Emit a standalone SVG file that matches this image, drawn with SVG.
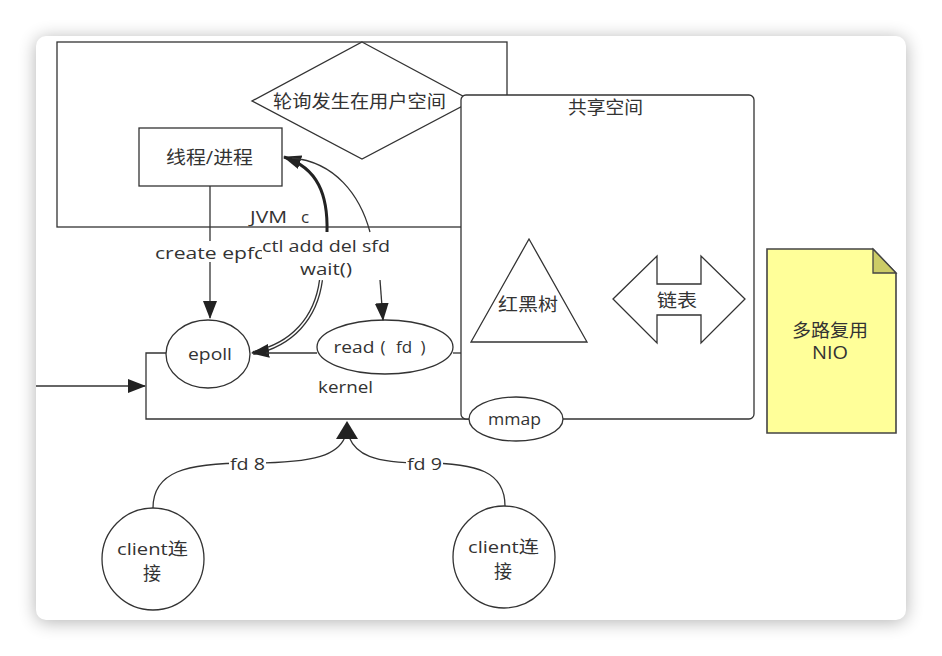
<svg xmlns="http://www.w3.org/2000/svg" width="942" height="656" viewBox="0 0 942 656">
<defs>
<filter id="sh" x="-10%" y="-10%" width="120%" height="120%">
<feGaussianBlur stdDeviation="9"/>
</filter>
<marker id="ah" markerUnits="userSpaceOnUse" markerWidth="18" markerHeight="14" refX="17" refY="7" orient="auto">
<path d="M0,0 L18,7 L0,14 z" fill="#222"/>
</marker>
<style>
.s{fill:none;stroke:#333;stroke-width:1.3}
.w{fill:#fff;stroke:#333;stroke-width:1.3}
.t{font-family:"Open Sans","Noto Sans CJK SC",sans-serif;font-size:17px;fill:#333;text-anchor:middle;dominant-baseline:central}
.c{font-size:18px}
.bg{fill:#fff}
</style>
</defs>
<rect width="942" height="656" fill="#fff"/>
<rect x="36" y="38" width="870" height="584" rx="10" fill="#000" opacity="0.3" filter="url(#sh)"/>
<rect x="36" y="36" width="870" height="584" rx="10" fill="#fff"/>

<g id="jvm">
<rect class="s" x="57" y="42" width="450" height="185"/>
<text class="t" x="268.5" y="216" textLength="37" lengthAdjust="spacingAndGlyphs">JVM</text>
<text class="t" x="305" y="216">c</text>
</g>
<g id="polling">
<path class="w" d="M362 42 L472 101 L362 159 L252 101 Z"/>
<text class="t c" x="359.5" y="101" textLength="173" lengthAdjust="spacingAndGlyphs">轮询发生在用户空间</text>
</g>
<g id="thread">
<rect class="w" x="139" y="128" width="143" height="58"/>
<text class="t c" x="209.5" y="157" textLength="87" lengthAdjust="spacingAndGlyphs">线程/进程</text>
</g>
<g id="kernel">
<path class="s" d="M166 353 H146 V419 H470"/>
<path class="s" d="M453 353 H462"/>
<text class="t" x="345.5" y="386" textLength="55" lengthAdjust="spacingAndGlyphs">kernel</text>
</g>
<g id="shared">
<rect class="w" x="461" y="95" width="293" height="324" rx="5"/>
<text class="t c" x="605.5" y="107" textLength="75" lengthAdjust="spacingAndGlyphs">共享空间</text>
</g>
<g id="rbtree">
<path class="w" d="M529 239 L587 342 L471 342 Z"/>
<text class="t c" x="528" y="304" textLength="60" lengthAdjust="spacingAndGlyphs">红黑树</text>
</g>
<g id="list">
<path class="w" d="M613 299 L657 256 V284 H701 V256 L745 299 L701 343 V315 H657 V343 Z"/>
<text class="t c" x="677" y="300" textLength="40" lengthAdjust="spacingAndGlyphs">链表</text>
</g>
<g id="mmap">
<ellipse class="w" cx="516" cy="419" rx="47" ry="22"/>
<text class="t" x="514.5" y="418" textLength="53" lengthAdjust="spacingAndGlyphs">mmap</text>
</g>
<g id="epoll">
<ellipse class="w" cx="208" cy="354" rx="42" ry="34"/>
<text class="t" x="210" y="353" textLength="44" lengthAdjust="spacingAndGlyphs">epoll</text>
</g>
<g id="read">
<ellipse class="w" cx="385" cy="347" rx="68" ry="27"/>
<text class="t" y="346"><tspan x="354" textLength="41" lengthAdjust="spacingAndGlyphs">read</tspan><tspan x="383">(</tspan><tspan x="404">fd</tspan><tspan x="423">)</tspan></text>
</g>
<g id="note">
<path d="M767 249 H873 L896 273 V433 H767 Z" fill="#ffff99" stroke="#444" stroke-width="1.6"/>
<path d="M873 249 V273 H896 Z" fill="#cccc66" stroke="#444" stroke-width="1.3"/>
<text class="t c" x="830" y="330" textLength="76" lengthAdjust="spacingAndGlyphs">多路复用</text>
<text class="t c" x="830" y="352" textLength="36" lengthAdjust="spacingAndGlyphs">NIO</text>
</g>
<g id="client1">
<circle class="w" cx="153" cy="559" r="51"/>
<text class="t" x="152.5" y="548" textLength="71" lengthAdjust="spacingAndGlyphs">client连</text>
<text class="t c" x="152" y="573">接</text>
</g>
<g id="client2">
<circle class="w" cx="504" cy="557" r="51"/>
<text class="t" x="503.5" y="546" textLength="71" lengthAdjust="spacingAndGlyphs">client连</text>
<text class="t c" x="503" y="571">接</text>
</g>

<g id="connectors">
<path class="s" d="M210 186 V318" marker-end="url(#ah)"/>
<rect class="bg" x="152" y="241" width="112" height="21"/>
<text class="t" x="211" y="252" textLength="112" lengthAdjust="spacingAndGlyphs">create epfd</text>
<path d="M327 232 C328 195 318 168 284 157" fill="none" stroke="#222" stroke-width="3" marker-end="url(#ah)"/>
<path class="s" d="M370 232 C360 195 335 162 292 158"/>
<path d="M321 280 C316 318 292 345 253 353" fill="none" stroke="#333" stroke-width="4.2"/>
<path d="M321 280 C316 318 292 345 253 353" fill="none" stroke="#fff" stroke-width="1.6"/>
<path d="M268 351 L252 353" fill="none" stroke="#222" stroke-width="1" marker-end="url(#ah)"/>
<path class="s" d="M317 353 H266"/>
<rect class="bg" x="262" y="234" width="130" height="46"/>
<text class="t" x="326" y="245" textLength="128" lengthAdjust="spacingAndGlyphs">ctl add del sfd</text>
<text class="t" x="326" y="268" textLength="52" lengthAdjust="spacingAndGlyphs">wait()</text>
<path class="s" d="M380 280 L383 320" marker-end="url(#ah)"/>
<path class="s" d="M36 386 H145" marker-end="url(#ah)"/>
<path class="s" d="M153 508 C153 472 185 463 250 463 C318 463 338 454 345 437"/>
<path class="s" d="M505 506 C505 472 478 463 423 463 C372 463 356 454 349 437"/>
<path d="M336 439 L347 421 L358 439 Z" fill="#222"/>
<rect class="bg" x="229" y="453" width="37" height="20"/>
<text class="t" x="247.5" y="463" textLength="35" lengthAdjust="spacingAndGlyphs">fd 8</text>
<rect class="bg" x="406" y="453" width="37" height="20"/>
<text class="t" x="424.5" y="463" textLength="35" lengthAdjust="spacingAndGlyphs">fd 9</text>
</g>
</svg>
